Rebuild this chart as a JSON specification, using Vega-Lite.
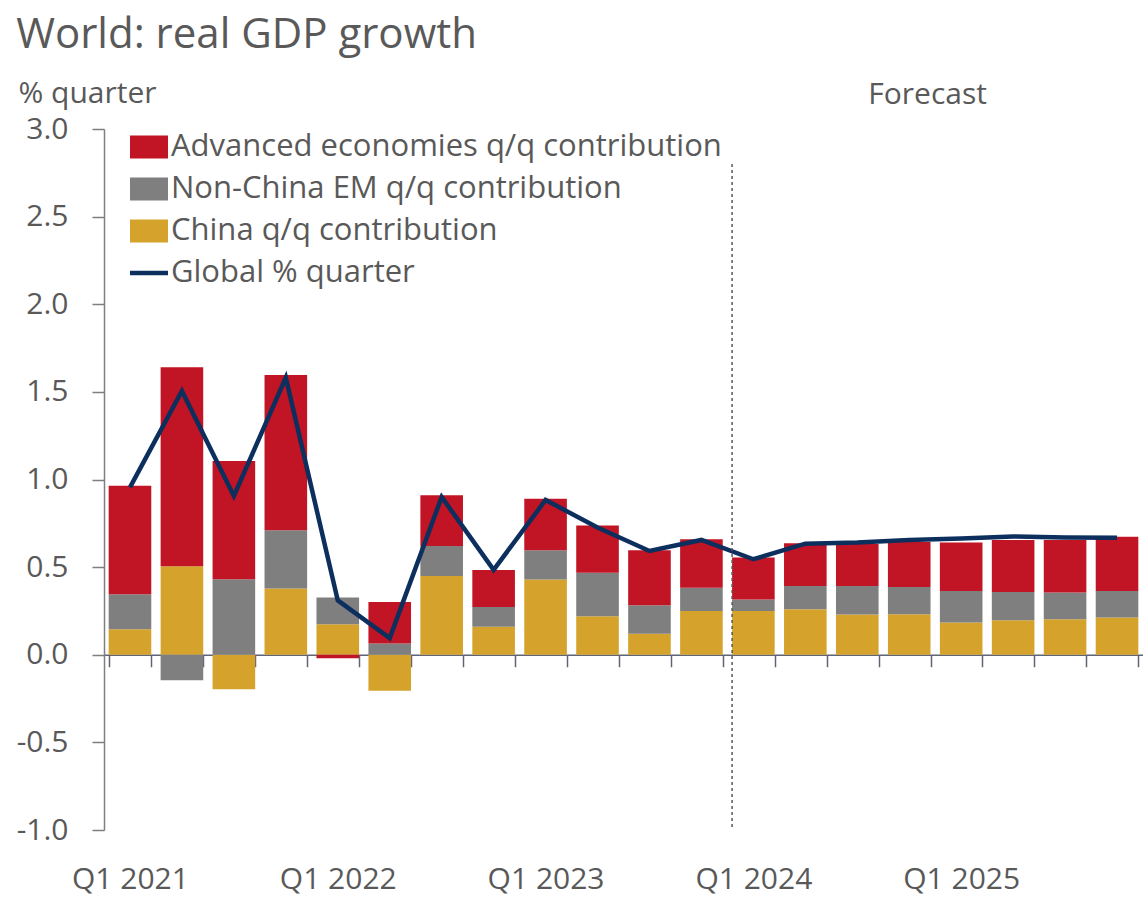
{
  "$schema": "https://vega.github.io/schema/vega-lite/v6.json",
  "width": 1039,
  "height": 701,
  "autosize": {"type": "none"},
  "padding": {"left": 104, "top": 129, "right": 0, "bottom": 67},
  "background": "white",
  "title": {"text": "World: real GDP growth", "anchor": "start", "fontSize": 42, "font": "Open Sans", "fontWeight": "normal", "color": "#595959", "offset": 21},
  "config": {"view": {"stroke": null}, "font": "Open Sans"},
  "datasets": {
    "bars": [
      {"q": "Q1 2021", "series": "China q/q contribution", "rank": 1, "value": 0.145},
      {"q": "Q1 2021", "series": "Non-China EM q/q contribution", "rank": 2, "value": 0.2},
      {"q": "Q1 2021", "series": "Advanced economies q/q contribution", "rank": 3, "value": 0.62},
      {"q": "Q2 2021", "series": "China q/q contribution", "rank": 1, "value": 0.505},
      {"q": "Q2 2021", "series": "Non-China EM q/q contribution", "rank": 2, "value": -0.145},
      {"q": "Q2 2021", "series": "Advanced economies q/q contribution", "rank": 3, "value": 1.135},
      {"q": "Q3 2021", "series": "China q/q contribution", "rank": 1, "value": -0.197},
      {"q": "Q3 2021", "series": "Non-China EM q/q contribution", "rank": 2, "value": 0.431},
      {"q": "Q3 2021", "series": "Advanced economies q/q contribution", "rank": 3, "value": 0.675},
      {"q": "Q4 2021", "series": "China q/q contribution", "rank": 1, "value": 0.378},
      {"q": "Q4 2021", "series": "Non-China EM q/q contribution", "rank": 2, "value": 0.332},
      {"q": "Q4 2021", "series": "Advanced economies q/q contribution", "rank": 3, "value": 0.886},
      {"q": "Q1 2022", "series": "China q/q contribution", "rank": 1, "value": 0.174},
      {"q": "Q1 2022", "series": "Non-China EM q/q contribution", "rank": 2, "value": 0.152},
      {"q": "Q1 2022", "series": "Advanced economies q/q contribution", "rank": 3, "value": -0.02},
      {"q": "Q2 2022", "series": "China q/q contribution", "rank": 1, "value": -0.206},
      {"q": "Q2 2022", "series": "Non-China EM q/q contribution", "rank": 2, "value": 0.064},
      {"q": "Q2 2022", "series": "Advanced economies q/q contribution", "rank": 3, "value": 0.237},
      {"q": "Q3 2022", "series": "China q/q contribution", "rank": 1, "value": 0.45},
      {"q": "Q3 2022", "series": "Non-China EM q/q contribution", "rank": 2, "value": 0.17},
      {"q": "Q3 2022", "series": "Advanced economies q/q contribution", "rank": 3, "value": 0.29},
      {"q": "Q4 2022", "series": "China q/q contribution", "rank": 1, "value": 0.16},
      {"q": "Q4 2022", "series": "Non-China EM q/q contribution", "rank": 2, "value": 0.113},
      {"q": "Q4 2022", "series": "Advanced economies q/q contribution", "rank": 3, "value": 0.211},
      {"q": "Q1 2023", "series": "China q/q contribution", "rank": 1, "value": 0.43},
      {"q": "Q1 2023", "series": "Non-China EM q/q contribution", "rank": 2, "value": 0.167},
      {"q": "Q1 2023", "series": "Advanced economies q/q contribution", "rank": 3, "value": 0.293},
      {"q": "Q2 2023", "series": "China q/q contribution", "rank": 1, "value": 0.22},
      {"q": "Q2 2023", "series": "Non-China EM q/q contribution", "rank": 2, "value": 0.248},
      {"q": "Q2 2023", "series": "Advanced economies q/q contribution", "rank": 3, "value": 0.27},
      {"q": "Q3 2023", "series": "China q/q contribution", "rank": 1, "value": 0.12},
      {"q": "Q3 2023", "series": "Non-China EM q/q contribution", "rank": 2, "value": 0.163},
      {"q": "Q3 2023", "series": "Advanced economies q/q contribution", "rank": 3, "value": 0.314},
      {"q": "Q4 2023", "series": "China q/q contribution", "rank": 1, "value": 0.25},
      {"q": "Q4 2023", "series": "Non-China EM q/q contribution", "rank": 2, "value": 0.133},
      {"q": "Q4 2023", "series": "Advanced economies q/q contribution", "rank": 3, "value": 0.276},
      {"q": "Q1 2024", "series": "China q/q contribution", "rank": 1, "value": 0.25},
      {"q": "Q1 2024", "series": "Non-China EM q/q contribution", "rank": 2, "value": 0.065},
      {"q": "Q1 2024", "series": "Advanced economies q/q contribution", "rank": 3, "value": 0.24},
      {"q": "Q2 2024", "series": "China q/q contribution", "rank": 1, "value": 0.26},
      {"q": "Q2 2024", "series": "Non-China EM q/q contribution", "rank": 2, "value": 0.133},
      {"q": "Q2 2024", "series": "Advanced economies q/q contribution", "rank": 3, "value": 0.243},
      {"q": "Q3 2024", "series": "China q/q contribution", "rank": 1, "value": 0.23},
      {"q": "Q3 2024", "series": "Non-China EM q/q contribution", "rank": 2, "value": 0.162},
      {"q": "Q3 2024", "series": "Advanced economies q/q contribution", "rank": 3, "value": 0.24},
      {"q": "Q4 2024", "series": "China q/q contribution", "rank": 1, "value": 0.231},
      {"q": "Q4 2024", "series": "Non-China EM q/q contribution", "rank": 2, "value": 0.156},
      {"q": "Q4 2024", "series": "Advanced economies q/q contribution", "rank": 3, "value": 0.256},
      {"q": "Q1 2025", "series": "China q/q contribution", "rank": 1, "value": 0.184},
      {"q": "Q1 2025", "series": "Non-China EM q/q contribution", "rank": 2, "value": 0.18},
      {"q": "Q1 2025", "series": "Advanced economies q/q contribution", "rank": 3, "value": 0.276},
      {"q": "Q2 2025", "series": "China q/q contribution", "rank": 1, "value": 0.197},
      {"q": "Q2 2025", "series": "Non-China EM q/q contribution", "rank": 2, "value": 0.161},
      {"q": "Q2 2025", "series": "Advanced economies q/q contribution", "rank": 3, "value": 0.297},
      {"q": "Q3 2025", "series": "China q/q contribution", "rank": 1, "value": 0.203},
      {"q": "Q3 2025", "series": "Non-China EM q/q contribution", "rank": 2, "value": 0.152},
      {"q": "Q3 2025", "series": "Advanced economies q/q contribution", "rank": 3, "value": 0.3},
      {"q": "Q4 2025", "series": "China q/q contribution", "rank": 1, "value": 0.212},
      {"q": "Q4 2025", "series": "Non-China EM q/q contribution", "rank": 2, "value": 0.152},
      {"q": "Q4 2025", "series": "Advanced economies q/q contribution", "rank": 3, "value": 0.31}
    ],
    "global": [
      {"q": "Q1 2021", "value": 0.955},
      {"q": "Q2 2021", "value": 1.505},
      {"q": "Q3 2021", "value": 0.906},
      {"q": "Q4 2021", "value": 1.581},
      {"q": "Q1 2022", "value": 0.31},
      {"q": "Q2 2022", "value": 0.095},
      {"q": "Q3 2022", "value": 0.9},
      {"q": "Q4 2022", "value": 0.484},
      {"q": "Q1 2023", "value": 0.883},
      {"q": "Q2 2023", "value": 0.726},
      {"q": "Q3 2023", "value": 0.592},
      {"q": "Q4 2023", "value": 0.655},
      {"q": "Q1 2024", "value": 0.545},
      {"q": "Q2 2024", "value": 0.634},
      {"q": "Q3 2024", "value": 0.64},
      {"q": "Q4 2024", "value": 0.655},
      {"q": "Q1 2025", "value": 0.663},
      {"q": "Q2 2025", "value": 0.675},
      {"q": "Q3 2025", "value": 0.669},
      {"q": "Q4 2025", "value": 0.667}
    ],
    "annot": [{}]
  },
  "layer": [
    {
      "data": {"name": "bars"},
      "mark": {"type": "bar"},
      "encoding": {
        "x": {
          "field": "q", "type": "nominal", "sort": null,
          "scale": {"paddingInner": 0.18, "paddingOuter": 0.09},
          "axis": {
            "title": null, "orient": "bottom", "offset": -175.25,
            "domainColor": "#5f6577", "domainWidth": 1.5,
            "tickColor": "#5f6577", "tickWidth": 1.5, "tickSize": 12, "tickBand": "extent",
            "labelAngle": 0, "labelFontSize": 30, "labelColor": "#595959", "labelFont": "Open Sans",
            "labelPadding": 198, "labelExpr": "indexof(datum.label, 'Q1') === 0 ? datum.label : ''",
            "labelOverlap": false, "grid": false
          }
        },
        "y": {
          "field": "value", "type": "quantitative", "stack": "zero",
          "scale": {"domain": [-1, 3], "nice": false, "zero": false},
          "axis": {
            "title": "% quarter", "titleAngle": 0, "titleAlign": "left", "titleBaseline": "alphabetic",
            "titleX": -86, "titleY": -27, "titleFontSize": 30, "titleFontWeight": "normal", "titleColor": "#595959", "titleFont": "Open Sans",
            "values": [-1, -0.5, 0, 0.5, 1, 1.5, 2, 2.5, 3],
            "labelExpr": "datum.value < 0 ? '-' + format(-datum.value, '.1f') : format(datum.value, '.1f')",
            "domainColor": "#7f7f7f", "domainWidth": 1.5, "tickColor": "#7f7f7f", "tickWidth": 1.5, "tickSize": 12,
            "labelFontSize": 30, "labelColor": "#595959", "labelFont": "Open Sans", "labelPadding": 24, "grid": false
          }
        },
        "color": {
          "field": "series", "type": "nominal",
          "scale": {
            "domain": ["Advanced economies q/q contribution", "Non-China EM q/q contribution", "China q/q contribution", "Global % quarter"],
            "range": ["#C11424", "#7F7F7F", "#D5A32C", "#0D2F5E"]
          },
          "legend": {
            "orient": "none", "legendX": 26, "legendY": -1, "title": null,
            "labelFontSize": 31, "labelColor": "#595959", "labelFont": "Open Sans", "labelLimit": 800, "labelOffset": 3,
            "symbolSize": 1444, "symbolType": "M-1,-0.6H1V0.6H-1Z", "symbolStrokeWidth": 0, "symbolOpacity": 1,
            "rowPadding": 8, "padding": 0,
            "encode": {"symbols": {"update": {"shape": {"signal": "datum.value === 'Global % quarter' ? 'M-1,-0.12H1V0.12H-1Z' : 'M-1,-0.6H1V0.6H-1Z'"}}}}
          }
        },
        "order": {"field": "rank", "type": "quantitative"}
      }
    },
    {
      "data": {"name": "global"},
      "mark": {"type": "line", "color": "#0D2F5E", "strokeWidth": 4.5, "strokeJoin": "miter"},
      "encoding": {
        "x": {"field": "q", "type": "nominal", "sort": null},
        "y": {"field": "value", "type": "quantitative"}
      }
    },
    {
      "data": {"name": "annot"},
      "mark": {"type": "rule", "color": "#595959", "strokeWidth": 1.5, "strokeDash": [3, 3]},
      "encoding": {
        "x": {"datum": "Q1 2024", "bandPosition": 0},
        "y": {"datum": 2.8},
        "y2": {"datum": -1}
      }
    },
    {
      "data": {"name": "annot"},
      "mark": {"type": "text", "text": "Forecast", "align": "left", "baseline": "alphabetic", "fontSize": 30, "color": "#595959", "font": "Open Sans", "dx": 11},
      "encoding": {
        "x": {"datum": "Q3 2024"},
        "y": {"datum": 3.14}
      }
    }
  ]
}
